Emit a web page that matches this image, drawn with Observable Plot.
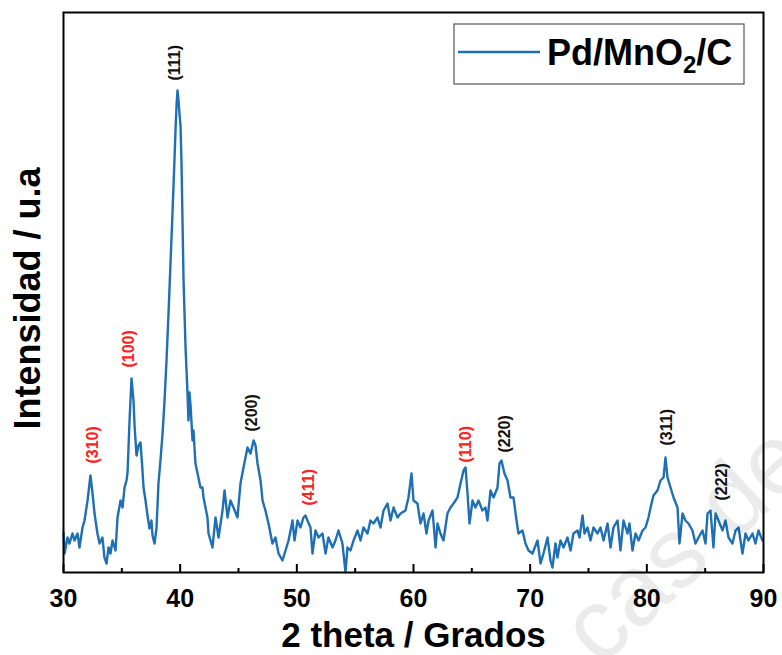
<!DOCTYPE html>
<html>
<head>
<meta charset="utf-8">
<script src="https://cdn.jsdelivr.net/npm/d3@7"></script>
<script src="https://cdn.jsdelivr.net/npm/@observablehq/plot@0.6"></script>
<style>
  html, body { margin: 0; padding: 0; background: #fff; }
  #chart svg { display: block; }
</style>
</head>
<body>
<div id="chart"></div>
<script>
// XRD scan of the Pd/MnO2/C catalyst: [2θ (degrees), intensity (a.u.)]
const scan = [
  [30.0,40],[30.09,19],[30.34,35],[30.51,29],[30.77,39],[30.94,32],[31.2,39],[31.37,25],[31.63,45],[31.8,52],
  [32.06,72],[32.31,97],[32.49,79],[32.66,59],[32.91,39],[33.09,29],[33.34,35],[33.51,15],[33.69,9],[33.86,25],
  [34.03,19],[34.2,32],[34.46,22],[34.63,55],[34.89,72],[35.06,65],[35.23,85],[35.4,92],[35.49,100],[35.66,152],
  [35.83,194],[36.0,172],[36.09,147],[36.26,117],[36.43,127],[36.6,130],[36.77,102],[36.86,85],[37.03,72],[37.2,57],
  [37.37,44],[37.54,52],[37.63,37],[37.8,29],[37.97,44],[38.14,89],[38.31,112],[38.49,139],[38.66,172],[38.83,212],
  [39.0,259],[39.17,309],[39.34,359],[39.51,412],[39.6,442],[39.69,467],[39.77,482],[39.86,472],[39.94,459],[40.03,447],
  [40.11,412],[40.2,352],[40.29,292],[40.46,225],[40.63,179],[40.71,152],[40.8,180],[40.89,167],[41.06,132],[41.14,142],
  [41.31,109],[41.49,99],[41.74,85],[41.91,85],[42.0,75],[42.34,55],[42.43,39],[42.77,25],[43.03,55],[43.29,35],
  [43.63,62],[43.8,82],[44.06,55],[44.31,72],[44.57,65],[44.91,55],[45.17,89],[45.43,105],[45.77,125],[46.03,119],
  [46.29,132],[46.46,127],[46.63,109],[46.89,92],[47.06,72],[47.31,62],[47.57,49],[47.91,29],[48.17,35],[48.43,19],
  [48.77,12],[49.03,22],[49.29,32],[49.63,52],[49.8,32],[50.06,52],[50.31,45],[50.57,55],[50.74,57],[50.91,52],
  [51.17,45],[51.34,19],[51.6,42],[51.86,35],[52.2,39],[52.46,19],[52.71,35],[53.06,25],[53.31,32],[53.57,42],
  [53.91,29],[54.17,0],[54.34,25],[54.6,22],[54.86,32],[55.2,42],[55.46,32],[55.71,45],[56.06,39],[56.31,52],
  [56.57,49],[56.91,55],[57.17,45],[57.43,62],[57.77,69],[58.03,52],[58.29,65],[58.63,55],[58.89,59],[59.31,62],
  [59.57,75],[59.83,99],[60.0,72],[60.34,69],[60.6,49],[60.86,59],[61.11,39],[61.29,52],[61.63,62],[61.89,25],
  [62.06,49],[62.31,39],[62.57,32],[62.91,59],[63.17,65],[63.43,69],[63.77,75],[64.03,89],[64.29,102],[64.46,105],
  [64.63,79],[64.8,49],[65.06,72],[65.31,65],[65.57,72],[65.91,62],[66.17,65],[66.34,52],[66.6,82],[66.86,75],
  [67.2,85],[67.37,109],[67.54,112],[67.8,99],[68.06,92],[68.31,75],[68.57,75],[68.83,52],[69.0,39],[69.34,42],
  [69.6,29],[69.86,22],[70.2,19],[70.63,32],[70.89,9],[71.14,19],[71.49,35],[71.74,12],[71.91,5],[72.17,29],
  [72.34,15],[72.6,32],[72.86,25],[73.2,35],[73.46,22],[73.71,39],[74.06,42],[74.23,35],[74.49,57],[74.66,39],
  [74.91,45],[75.17,32],[75.43,45],[75.77,39],[76.03,45],[76.29,32],[76.63,49],[76.89,25],[77.14,45],[77.49,52],
  [77.74,22],[78.0,52],[78.34,39],[78.51,49],[78.77,22],[79.03,39],[79.29,32],[79.63,42],[79.89,45],[80.14,55],
  [80.4,69],[80.57,77],[80.91,82],[81.17,92],[81.43,95],[81.6,115],[81.77,95],[82.03,85],[82.29,75],[82.63,65],
  [82.8,29],[83.06,59],[83.31,52],[83.57,49],[83.91,42],[84.17,29],[84.43,35],[84.77,42],[85.03,29],[85.2,59],
  [85.46,62],[85.71,25],[85.89,59],[86.14,52],[86.49,42],[86.74,52],[87.0,35],[87.34,29],[87.6,42],[87.86,45],
  [88.2,19],[88.46,39],[88.71,32],[89.06,39],[89.31,29],[89.57,42],[89.91,32]
];

// Miller indices of the indexed reflections, where each label sits, and its phase
const peakHkl   = ["(310)", "(100)", "(111)", "(200)", "(411)", "(110)", "(220)", "(311)", "(222)"];
const peakTheta = [32.49, 35.61, 39.56, 46.11, 51.0, 64.46, 67.8, 81.69, 86.4];
const peakBase  = [109, 205, 492, 141, 67, 110, 120, 127, 72];
const peakPhase = ["MnO2", "MnO2", "Pd", "Pd", "MnO2", "MnO2", "Pd", "Pd", "Pd"];
const phaseColor = {MnO2: "#ff2020", Pd: "#111111"};

// x-axis ticks
const majorTicks = [30, 40, 50, 60, 70, 80, 90];
const minorTicks = [35, 45, 55, 65, 75, 85];

const seriesName = "Pd/MnO";
const lineColor = "#1f6fb5";

const peaks = peakHkl.map((hkl, i) => ({hkl, theta: peakTheta[i], base: peakBase[i], phase: peakPhase[i]}));

const W = 782, H = 655;
const mTop = 12, mRight = 19, mBottom = 83, mLeft = 63;
const frameH = H - mTop - mBottom;

const chart = Plot.plot({
  width: W,
  height: H,
  marginTop: mTop,
  marginRight: mRight,
  marginBottom: mBottom,
  marginLeft: mLeft,
  style: {fontFamily: "'Liberation Sans', Arial, Helvetica, sans-serif", fontWeight: "bold", background: "#fff", overflow: "visible"},
  x: {domain: [30, 90], axis: null},
  y: {domain: [0, 560], axis: null},
  marks: [
    Plot.line(scan, {x: d => d[0], y: d => d[1], stroke: lineColor, strokeWidth: 2.4, strokeLinejoin: "round"}),
    Plot.text(peaks, {
      x: "theta", y: "base", text: "hkl", rotate: -90, textAnchor: "start",
      fill: d => phaseColor[d.phase], fontSize: 16
    }),
    // inward ticks on the bottom edge
    Plot.tickX(majorTicks, {x: d => d, insetTop: frameH - 8, stroke: "#000", strokeWidth: 2}),
    Plot.tickX(minorTicks, {x: d => d, insetTop: frameH - 4, stroke: "#000", strokeWidth: 2}),
    Plot.axisX(majorTicks, {tickSize: 0, tickPadding: 17, fontSize: 25, label: null, fill: "#000"}),
    Plot.frame({stroke: "#000", strokeWidth: 2}),
    Plot.text(["2 theta / Grados"], {frameAnchor: "bottom", lineAnchor: "middle", dy: 63, fontSize: 35, fill: "#000"}),
    Plot.text(["Intensidad / u.a"], {frameAnchor: "left", textAnchor: "middle", lineAnchor: "middle", rotate: -90, dx: -35, dy: 6, fontSize: 36, fill: "#000"})
  ]
});

document.getElementById("chart").appendChild(chart);

const svg = d3.select(chart);

// Series legend in the upper right corner of the frame
const legend = svg.append("g").attr("class", "legend").attr("text-anchor", "start");
legend.append("rect")
  .attr("x", 454).attr("y", 24).attr("width", 290).attr("height", 60)
  .attr("fill", "#fff").attr("stroke", "#555").attr("stroke-width", 1.2);
legend.append("line")
  .attr("x1", 458).attr("x2", 540).attr("y1", 52).attr("y2", 52)
  .attr("stroke", lineColor).attr("stroke-width", 2.4);
const lt = legend.append("text")
  .attr("x", 547).attr("y", 65)
  .attr("font-size", 36).attr("font-weight", "bold").attr("fill", "#000");
lt.append("tspan").text(seriesName);
lt.append("tspan").attr("font-size", 24).attr("dy", 8).text("2");
lt.append("tspan").attr("dy", -8).text("/C");

// Faint publisher watermark across the lower right corner
svg.append("text")
  .attr("transform", "translate(600,668) rotate(-43)")
  .attr("text-anchor", "start")
  .attr("font-size", 100).attr("font-weight", "normal")
  .attr("fill", "#000").attr("fill-opacity", 0.08)
  .text("cas de");
</script>
</body>
</html>
